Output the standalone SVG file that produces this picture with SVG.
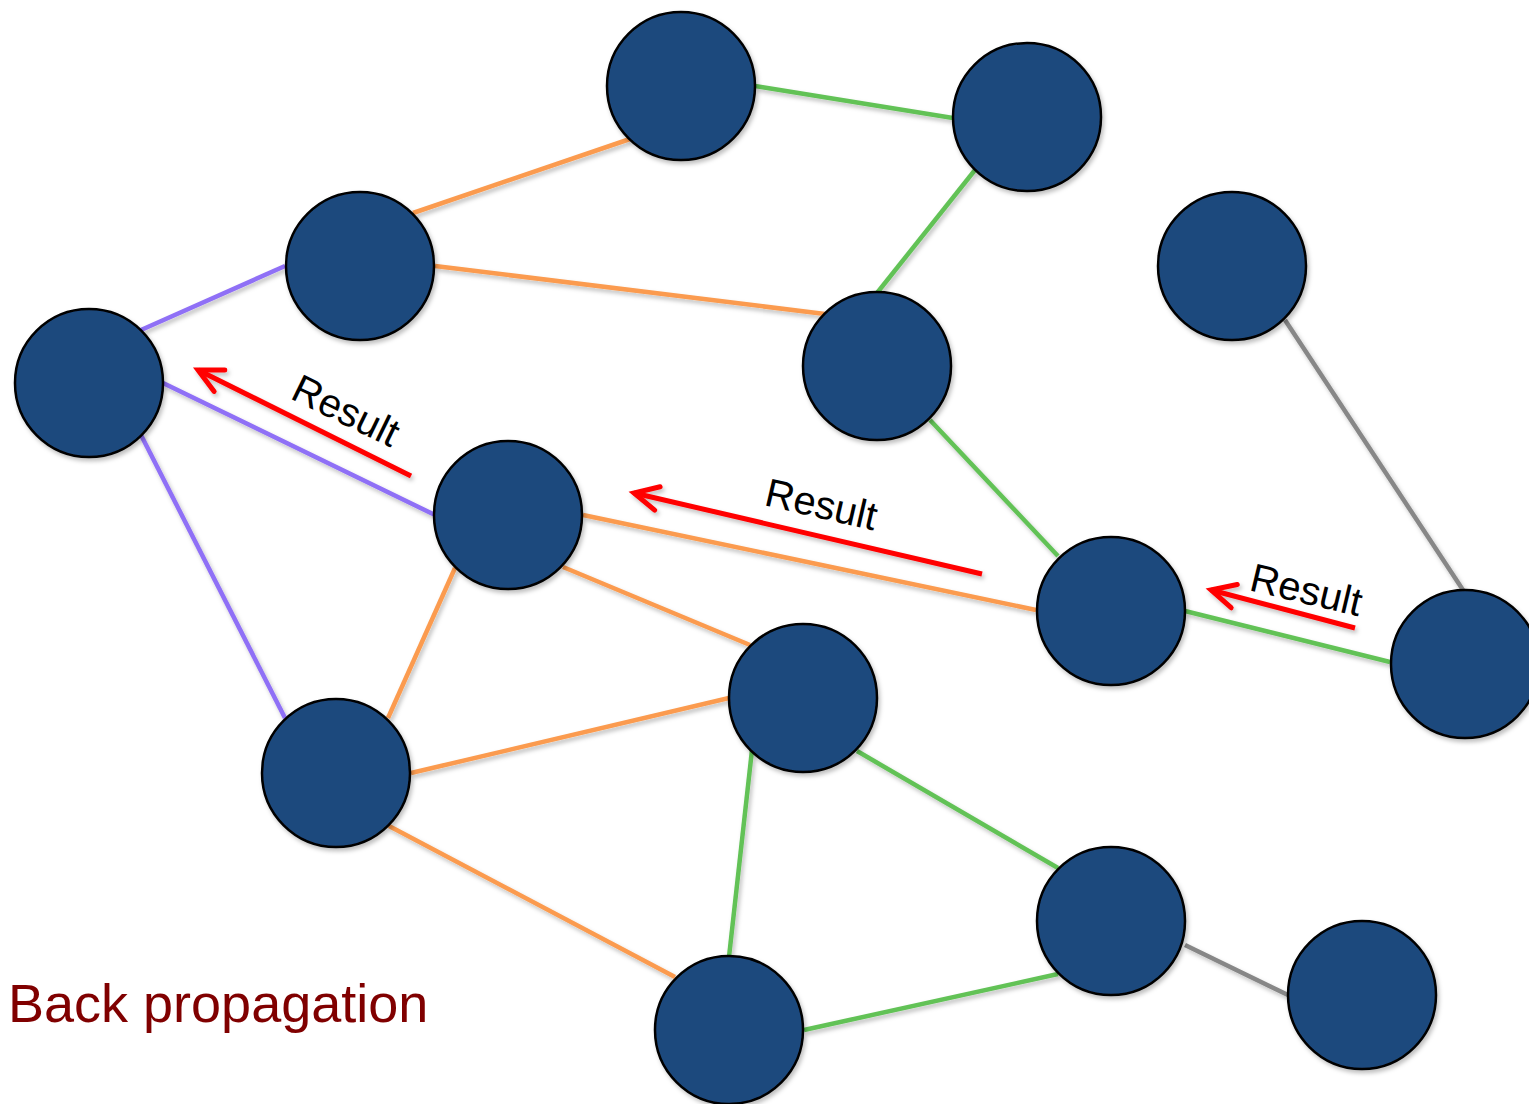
<svg xmlns="http://www.w3.org/2000/svg" width="1529" height="1104" viewBox="0 0 1529 1104">
  <style>
    .node { fill: #1f497d; stroke: #000; stroke-width: 2.5; }
    .edge { stroke-width: 4.5; stroke-linecap: butt; fill: none; }
    .orange { stroke: #fb9b4f; }
    .green { stroke: #62c257; }
    .purple { stroke: #8f6ff6; }
    .gray { stroke: #878787; }
    .flow { stroke: #ff0000; stroke-width: 5; fill: none; marker-end: url(#chevron); }
    .lbl { font-family: "Liberation Sans", Arial, sans-serif; font-size: 40px; fill: #000; }
    .title { font-family: "Liberation Sans", Arial, sans-serif; font-size: 54px; fill: #800000; }
  </style>
  <defs>
    <filter id="shade" x="-20%" y="-20%" width="140%" height="140%">
      <feDropShadow dx="2" dy="3" stdDeviation="2" flood-color="#000" flood-opacity="0.25"/>
    </filter>
    <marker id="chevron" markerUnits="userSpaceOnUse" markerWidth="40" markerHeight="40" refX="0" refY="0" orient="auto" overflow="visible" viewBox="-30 -20 40 40">
      <path d="M -24 -12 L 0 0 L -24 12" fill="none" stroke="#ff0000" stroke-width="5" stroke-linecap="round" stroke-linejoin="miter"/>
    </marker>
  </defs>
  <rect width="1529" height="1104" fill="#ffffff"/>

  <!-- links between nodes -->
  <g id="connectors" filter="url(#shade)">
    <line class="edge green" x1="755" y1="86" x2="953" y2="118"/>
    <line class="edge orange" x1="630" y1="139" x2="413" y2="213"/>
    <line class="edge green" x1="975" y1="170" x2="877" y2="293"/>
    <line class="edge purple" x1="285" y1="266" x2="141" y2="330"/>
    <line class="edge orange" x1="435" y1="266" x2="825" y2="314"/>
    <line class="edge gray" x1="1285" y1="320" x2="1463" y2="590"/>
    <line class="edge purple" x1="163" y1="383" x2="435" y2="515"/>
    <line class="edge purple" x1="141" y1="435" x2="285" y2="718"/>
    <line class="edge green" x1="930" y1="420" x2="1058" y2="556"/>
    <line class="edge orange" x1="583" y1="515" x2="1036" y2="610"/>
    <line class="edge orange" x1="563" y1="567" x2="750" y2="645"/>
    <line class="edge orange" x1="455" y1="568" x2="388" y2="718"/>
    <line class="edge green" x1="1185" y1="611" x2="1390" y2="662"/>
    <line class="edge orange" x1="729" y1="698" x2="411" y2="773"/>
    <line class="edge green" x1="857" y1="751" x2="1058" y2="868"/>
    <line class="edge green" x1="752" y1="750" x2="729" y2="957"/>
    <line class="edge orange" x1="389" y1="826" x2="675" y2="977"/>
    <line class="edge gray" x1="1185" y1="945" x2="1288" y2="995"/>
    <line class="edge green" x1="1058" y1="974" x2="804" y2="1030"/>
  </g>

  <!-- nodes -->
  <g id="n1" filter="url(#shade)"><circle class="node" cx="681" cy="86" r="74"/></g>
  <g id="n2" filter="url(#shade)"><circle class="node" cx="1027" cy="117" r="74"/></g>
  <g id="n3" filter="url(#shade)"><circle class="node" cx="360" cy="266" r="74"/></g>
  <g id="n4" filter="url(#shade)"><circle class="node" cx="1232" cy="266" r="74"/></g>
  <g id="n5" filter="url(#shade)"><circle class="node" cx="89" cy="383" r="74"/></g>
  <g id="n6" filter="url(#shade)"><circle class="node" cx="877" cy="366" r="74"/></g>
  <g id="n7" filter="url(#shade)"><circle class="node" cx="508" cy="515" r="74"/></g>
  <g id="n8" filter="url(#shade)"><circle class="node" cx="1111" cy="611" r="74"/></g>
  <g id="n9" filter="url(#shade)"><circle class="node" cx="1465" cy="664" r="74"/></g>
  <g id="n10" filter="url(#shade)"><circle class="node" cx="803" cy="698" r="74"/></g>
  <g id="n11" filter="url(#shade)"><circle class="node" cx="336" cy="773" r="74"/></g>
  <g id="n12" filter="url(#shade)"><circle class="node" cx="1111" cy="921" r="74"/></g>
  <g id="n13" filter="url(#shade)"><circle class="node" cx="1362" cy="995" r="74"/></g>
  <g id="n14" filter="url(#shade)"><circle class="node" cx="729" cy="1030" r="74"/></g>

  <!-- result flow arrows -->
  <g id="flows" filter="url(#shade)">
    <line class="flow" x1="411" y1="476" x2="198" y2="370"/>
    <line class="flow" x1="982" y1="574" x2="634" y2="493"/>
    <line class="flow" x1="1355" y1="628" x2="1211" y2="590"/>
  </g>

  <g id="labels">
    <text class="lbl" transform="translate(289,398) rotate(26)">Result</text>
    <text class="lbl" transform="translate(763,505) rotate(13)">Result</text>
    <text class="lbl" transform="translate(1248,590) rotate(13.5)">Result</text>
    <text class="title" x="8" y="1022">Back propagation</text>
  </g>
</svg>
